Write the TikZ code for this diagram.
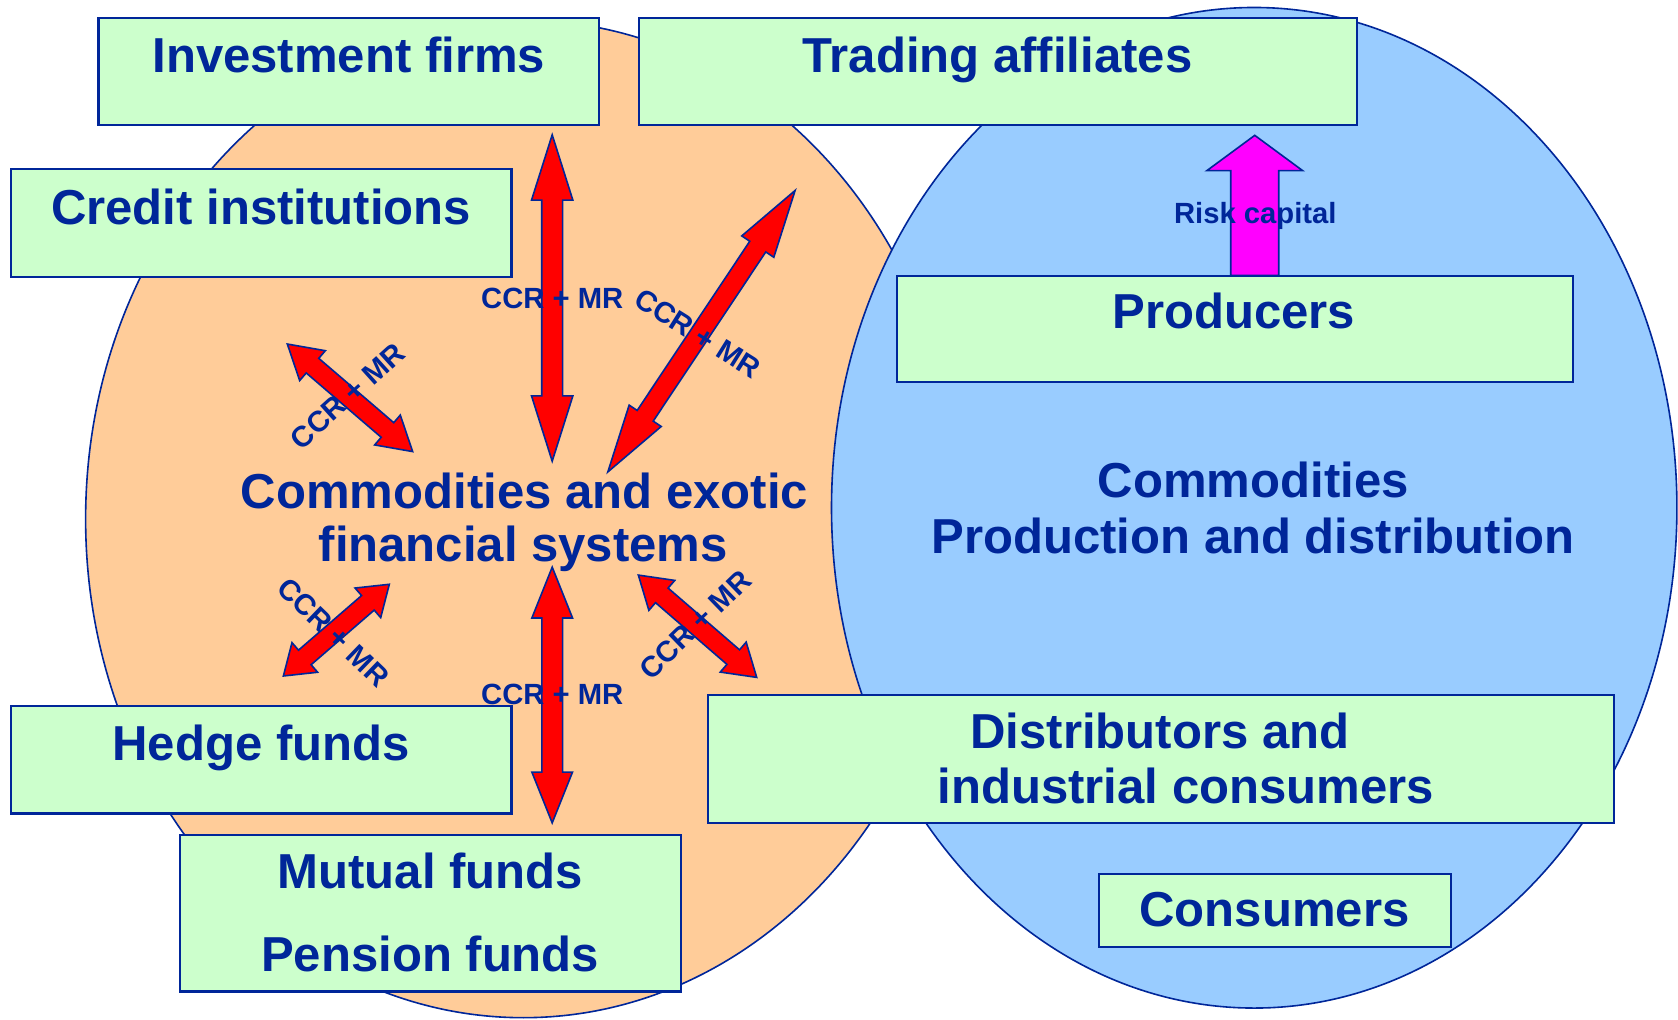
\documentclass[tikz,border=0pt]{standalone}
\usepackage{fontspec}
\setmainfont{Liberation Sans}[Ligatures=CommonOff]
\usetikzlibrary{calc}
\definecolor{navy}{RGB}{0,38,153}
\definecolor{peach}{RGB}{255,204,153}
\definecolor{sky}{RGB}{153,204,255}
\definecolor{mint}{RGB}{204,255,204}
\definecolor{pinkarrow}{RGB}{255,0,255}
\newcommand{\dblarrow}[5]{%
  \coordinate (p1) at ($(#1)!#3!(#2)$);
  \coordinate (p2) at ($(#2)!#3!(#1)$);
  \filldraw[blockarrow] (#1) -- ($(p1)!#4!90:(#2)$) -- ($(p1)!#5!90:(#2)$)
    -- ($(p2)!#5!90:(#2)$) -- ($(p2)!#4!90:(#2)$) -- (#2)
    -- ($(p2)!#4!-90:(#2)$) -- ($(p2)!#5!-90:(#2)$)
    -- ($(p1)!#5!-90:(#2)$) -- ($(p1)!#4!-90:(#2)$) -- cycle;}

\begin{document}
\begin{tikzpicture}[x=0.1mm, y=-0.1mm,
  box/.style={draw=navy, line width=0.2mm, fill=mint, inner sep=0pt},
  big/.style={text=navy, font=\fontsize{13.05pt}{15pt}\selectfont\bfseries, anchor=base, inner sep=0pt},
  small/.style={text=navy, font=\fontsize{7.77pt}{9pt}\selectfont\bfseries, inner sep=0pt},
  blockarrow/.style={draw=navy, line width=0.15mm, fill=red, line join=miter}]
\useasboundingbox (0,0) rectangle (1568,953);
\draw[navy, line width=0.15mm, fill=peach] (489,485) ellipse [x radius=40.9mm, y radius=46.6mm];
\draw[navy, line width=0.15mm, fill=sky] (1172,474.5) ellipse [x radius=39.5mm, y radius=46.75mm];

\node[box, minimum width=46.8mm, minimum height=10mm] (inv) at (326,67) {};
\node[box, minimum width=67.1mm, minimum height=10mm] (trd) at (932.5,67) {};
\node[box, minimum width=46.8mm, minimum height=10.1mm] (crd) at (244,208.5) {};
\node[box, minimum width=63.2mm, minimum height=9.95mm] (prd) at (1154,307.5) {};
\node[box, minimum width=46.8mm, minimum height=10.05mm] (hdg) at (244,710) {};
\node[box, minimum width=46.75mm, minimum height=14.65mm] (mut) at (402.25,853.25) {};
\node[box, minimum width=84.65mm, minimum height=11.95mm] (dst) at (1084.75,709.25) {};
\node[box, minimum width=32.9mm, minimum height=6.85mm] (con) at (1191.5,850.75) {};

\node[big] (invT) at (326,68) {Investment firms};
\node[big] (trdT) at (932,68) {Trading affiliates};
\node[big] (crdT) at (244,209.5) {Credit institutions};
\node[big] (prdT) at (1153,307) {Producers};
\node[big] (comT) at (1171,465) {Commodities};
\node[big] (pdsT) at (1171,517) {Production and distribution};
\node[big] (finT) at (490,475.6) {Commodities and exotic};
\node[big] (sysT) at (489,524.8) {financial systems};
\node[big] (dstT) at (1084,699) {Distributors and};
\node[big] (indT) at (1108,751) {industrial consumers};
\node[big] (hdgT) at (244,711) {Hedge funds};
\node[big] (mutT) at (402,830) {Mutual funds};
\node[big] (penT) at (402,908) {Pension funds};
\node[big] (conT) at (1191,866) {Consumers};

\coordinate (a1) at (516,126); \coordinate (b1) at (516,431);
\coordinate (a2) at (516,530); \coordinate (b2) at (516,769);
\coordinate (a3) at (743,178); \coordinate (b3) at (568,441);
\coordinate (a4) at (268.5,321.5); \coordinate (b4) at (385.6,422);
\coordinate (a5) at (363.8,546); \coordinate (b5) at (264.8,631.7);
\coordinate (a6) at (596.5,537.4); \coordinate (b6) at (707.1,633);
\dblarrow{a1}{b1}{6.1mm}{1.93mm}{0.98mm}
\dblarrow{a2}{b2}{4.75mm}{1.9mm}{0.97mm}
\dblarrow{a3}{b3}{6.3mm}{1.8mm}{0.9mm}
\dblarrow{a4}{b4}{3.1mm}{1.84mm}{0.9mm}
\dblarrow{a5}{b5}{2.65mm}{1.83mm}{0.9mm}
\dblarrow{a6}{b6}{2.9mm}{1.85mm}{0.9mm}

\coordinate (rc1) at (1172.5,257.5); \coordinate (rc2) at (1172.5,126.5);
\filldraw[blockarrow, fill=pinkarrow] ($(rc1)+(-22.4,0)$) -- ($(rc2)+(-22.4,33)$) -- ($(rc2)+(-44.8,33)$)
  -- (rc2) -- ($(rc2)+(44.8,33)$) -- ($(rc2)+(22.4,33)$) -- ($(rc1)+(22.4,0)$) -- cycle;
\node[small, anchor=base] (risk) at (1173,209) {Risk capital};

\node[small, anchor=base] (l1) at (516,288) {CCR + MR};
\node[small, anchor=base] (l2) at (516,658) {CCR + MR};
\node[small, rotate=-32] (l3) at (652,311.6) {CCR + MR};
\node[small, rotate=42] (l4) at (324.8,370.1) {CCR + MR};
\node[small, rotate=-44] (l5) at (311.7,590.7) {CCR + MR};
\node[small, rotate=44] (l6) at (649.7,583.6) {CCR + MR};
\end{tikzpicture}
\end{document}
